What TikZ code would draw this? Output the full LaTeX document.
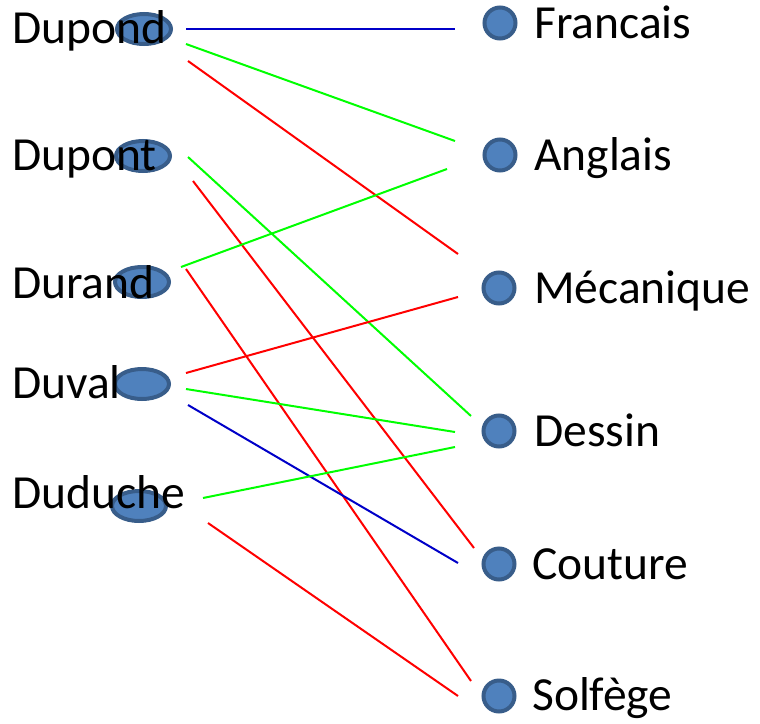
\documentclass[tikz,border=0pt]{standalone}
\usepackage{fontspec}
\setmainfont{Carlito}
\usetikzlibrary{shapes.geometric}
\definecolor{dotfill}{HTML}{4F81BD}
\definecolor{dotedge}{HTML}{385D8A}
\definecolor{linkblue}{RGB}{0,0,200}
\definecolor{linkgreen}{RGB}{0,255,0}
\definecolor{linkred}{RGB}{255,0,0}
\tikzset{
  person/.style={ellipse, fill=dotfill, draw=dotedge, line width=4pt,
    minimum width=54pt, minimum height=30pt, inner sep=0pt},
  subject/.style={circle, fill=dotfill, draw=dotedge, line width=4pt,
    minimum size=31pt, inner sep=0pt},
  label/.style={anchor=base west, inner sep=0pt, font=\fontsize{47.5}{52}\selectfont},
  link/.style={line width=2pt},
}
\begin{document}
\begin{tikzpicture}[x=1pt,y=-1pt]
\useasboundingbox (0,0) rectangle (760,723);

% people: markers first, names on top
\node[person] (eDupond)  at (144,29)  {};
\node[person] (eDupont)  at (143,156) {};
\node[person] (eDurand)  at (142,282) {};
\node[person] (eDuval)   at (142,384) {};
\node[person] (eDuduche) at (139,506) {};
\node[label] (tDupond)  at (12,43)  {Dupond};
\node[label] (tDupont)  at (12,170) {Dupont};
\node[label] (tDurand)  at (12,298) {Durand};
\node[label] (tDuval)   at (12,398) {Duval};
\node[label] (tDuduche) at (12,508) {Duduche};

% subjects
\node[subject] (cFrancais)  at (500,23)  {};
\node[subject] (cAnglais)   at (500,155) {};
\node[subject] (cMecanique) at (499,288) {};
\node[subject] (cDessin)    at (499,431) {};
\node[subject] (cCouture)   at (499,564) {};
\node[subject] (cSolfege)   at (499,696) {};
\node[label] (tFrancais)  at (534,38)  {Francais};
\node[label] (tAnglais)   at (534,170) {Anglais};
\node[label] (tMecanique) at (534,303) {Mécanique};
\node[label] (tDessin)    at (534,446) {Dessin};
\node[label] (tCouture)   at (532,579) {Couture};
\node[label] (tSolfege)   at (532,710) {Solfège};

% link end points
\coordinate (dupondA) at (186,29);  \coordinate (francaisA)  at (455,29);
\coordinate (dupondB) at (186,44);  \coordinate (anglaisA)   at (455,141);
\coordinate (dupondC) at (188,61);  \coordinate (mecaniqueA) at (458,254);
\coordinate (dupontA) at (188,157); \coordinate (dessinA)    at (471,416);
\coordinate (dupontB) at (193,181); \coordinate (coutureA)   at (474,548);
\coordinate (durandA) at (181,267); \coordinate (anglaisB)   at (447,169);
\coordinate (durandB) at (186,269); \coordinate (solfegeA)   at (471,681);
\coordinate (duvalA)  at (186,373); \coordinate (mecaniqueB) at (458,297);
\coordinate (duvalB)  at (186,389); \coordinate (dessinB)    at (455,432);
\coordinate (duvalC)  at (188,405); \coordinate (coutureB)   at (458,563);
\coordinate (duducheA) at (203,498); \coordinate (dessinC)   at (455,447);
\coordinate (duducheB) at (208,523); \coordinate (solfegeB)  at (458,696);

% links
\draw[link,linkblue]  (dupondA) -- (francaisA);
\draw[link,linkgreen] (dupondB) -- (anglaisA);
\draw[link,linkred]   (dupondC) -- (mecaniqueA);
\draw[link,linkgreen] (dupontA) -- (dessinA);
\draw[link,linkred]   (dupontB) -- (coutureA);
\draw[link,linkgreen] (durandA) -- (anglaisB);
\draw[link,linkred]   (durandB) -- (solfegeA);
\draw[link,linkred]   (duvalA) -- (mecaniqueB);
\draw[link,linkgreen] (duvalB) -- (dessinB);
\draw[link,linkblue]  (duvalC) -- (coutureB);
\draw[link,linkgreen] (duducheA) -- (dessinC);
\draw[link,linkred]   (duducheB) -- (solfegeB);
\end{tikzpicture}
\end{document}
